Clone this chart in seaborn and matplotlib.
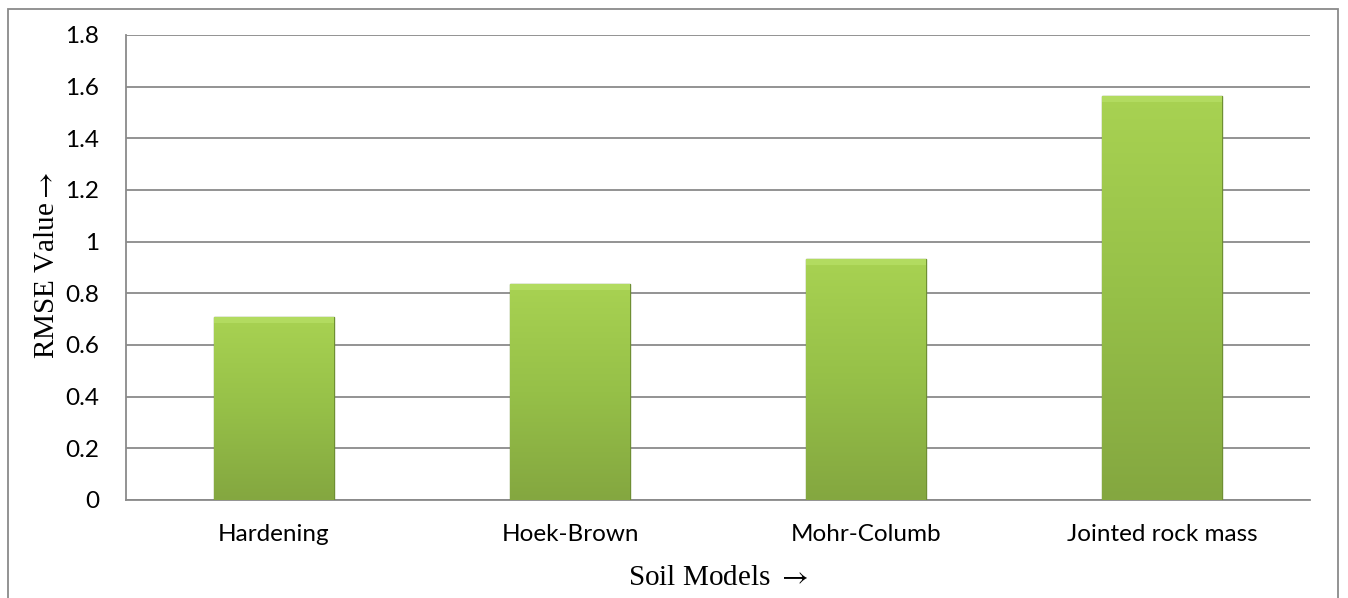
import numpy as np
import pandas as pd
import matplotlib
matplotlib.use("Agg")
import matplotlib.pyplot as plt
from matplotlib.colors import LinearSegmentedColormap
from matplotlib.patches import Rectangle
import seaborn as sns

models = ["Hardening", "Hoek-Brown", "Mohr-Columb", "Jointed rock mass"]
rmse = [0.707, 0.835, 0.932, 1.562]
y_ticks = [0, 0.2, 0.4, 0.6, 0.8, 1, 1.2, 1.4, 1.6, 1.8]
y_tick_labels = ["0", "0.2", "0.4", "0.6", "0.8", "1", "1.2", "1.4", "1.6", "1.8"]

df = pd.DataFrame({"model": models, "rmse": rmse})

sns.set_theme(style="white")
plt.rcParams["font.family"] = ["Lato", "DejaVu Sans"]
plt.rcParams["mathtext.fontset"] = "stix"

fig = plt.figure(figsize=(13.48, 5.98), dpi=100)
ax = fig.add_axes([0.0935, 0.1639, 0.8783, 0.7776])

sns.barplot(data=df, x="model", y="rmse", color="#94bf48", width=0.405,
            edgecolor="#6f8f33", linewidth=1.0, ax=ax, zorder=3)

cmap = LinearSegmentedColormap.from_list("g", ["#a8d252", "#96c048", "#84a740"])
grad = np.linspace(0, 1, 256).reshape(-1, 1)
for p in ax.patches:
    x0, y0 = p.get_x(), p.get_y()
    w, h = p.get_width(), p.get_height()
    im = ax.imshow(grad, cmap=cmap, aspect="auto",
                   extent=(x0, x0 + w, y0, y0 + h), origin="upper", zorder=3.5)
    im.set_clip_path(p)
    ax.add_patch(Rectangle((x0, y0 + h - 0.022), w, 0.022, facecolor="#b6de64",
                           edgecolor="none", zorder=3.6, alpha=0.8))

ax.set_xlim(-0.5, len(models) - 0.5)
ax.set_ylim(0, 1.8)
ax.set_yticks(y_ticks)
ax.set_yticklabels(y_tick_labels)
ax.yaxis.grid(True, color="#8a8a8a", linewidth=1.3)
ax.set_axisbelow(True)
for s in ["top", "right"]:
    ax.spines[s].set_visible(False)
for s in ["left", "bottom"]:
    ax.spines[s].set_color("#8a8a8a")
    ax.spines[s].set_linewidth(1.3)
ax.tick_params(axis="both", length=0, labelsize=17.5, colors="black")
ax.tick_params(axis="y", pad=19.5)
ax.tick_params(axis="x", pad=17)

serif = ["Liberation Serif", "DejaVu Serif"]
ax.set_xlabel("Soil Models $\\rightarrow$", fontsize=21, family=serif, color="black")
ax.set_ylabel("RMSE Value$\\rightarrow$", fontsize=21, family=serif, color="black")
ax.xaxis.set_label_coords(0.5, -0.14)
ax.yaxis.set_label_coords(-0.056, 0.505)

fig.patches.append(Rectangle((0.006, -0.02), 0.9866, 1.005, transform=fig.transFigure,
                             fill=False, edgecolor="#8a8a8a", linewidth=1.3))

fig.savefig("out.png", dpi=100)
